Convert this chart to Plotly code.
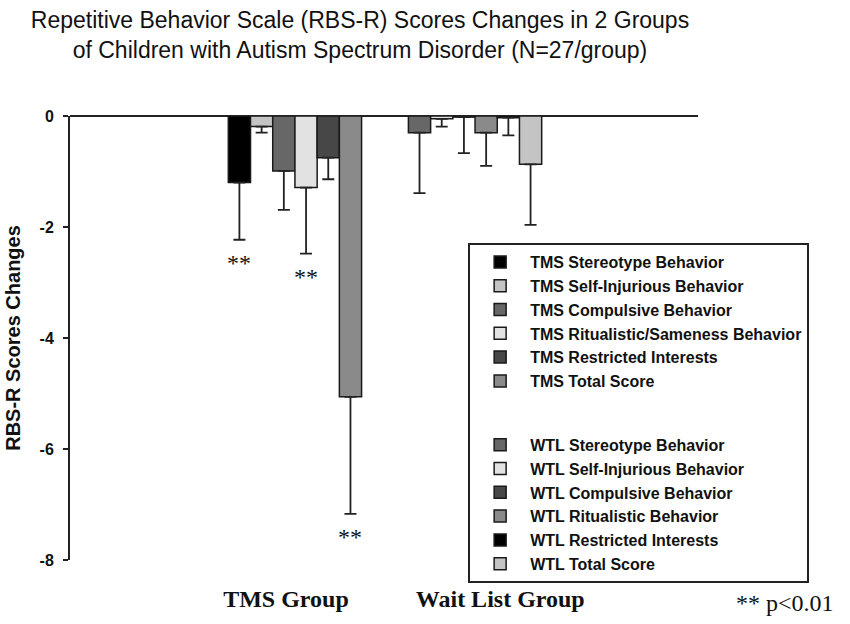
import plotly.graph_objects as go

# ---------------- data ----------------
groups = ["TMS Group", "Wait List Group"]
group_pos = [0, 1]
group_label_pos = [-0.05, 1.14]

tms_names = ["TMS Stereotype Behavior", "TMS Self-Injurious Behavior", "TMS Compulsive Behavior",
             "TMS Ritualistic/Sameness Behavior", "TMS Restricted Interests", "TMS Total Score"]
wtl_names = ["WTL Stereotype Behavior", "WTL Self-Injurious Behavior", "WTL Compulsive Behavior",
             "WTL Ritualistic Behavior", "WTL Restricted Interests", "WTL Total Score"]

tms_means = [-1.20, -0.19, -0.99, -1.29, -0.75, -5.06]
tms_err = [1.03, 0.11, 0.70, 1.19, 0.39, 2.11]
tms_sig = [True, False, False, True, False, True]

wtl_means = [-0.30, -0.05, -0.02, -0.30, -0.03, -0.87]
wtl_err = [1.09, 0.14, 0.65, 0.60, 0.32, 1.09]

tms_colors = ["#000000", "#c4c4c4", "#676767", "#e2e2e2", "#474747", "#8a8a8a"]
wtl_colors = ["#676767", "#e2e2e2", "#474747", "#8a8a8a", "#000000", "#c4c4c4"]

y_ticks = [-8, -6, -4, -2, 0]

# ---------------- figure ----------------
SANS = "Liberation Sans, Arial, sans-serif"
SERIF = "Liberation Serif, Times New Roman, serif"
BARGAP = 0.26
n = len(tms_names)

fig = go.Figure()

def add_series(names, means, errs, colors, gx, grp):
    for i in range(n):
        fig.add_trace(go.Bar(
            x=[gx], y=[means[i]], name=names[i],
            offsetgroup=str(i), legendgroup=grp,
            marker=dict(color=colors[i], line=dict(color="#1a1a1a", width=1.5)),
            error_y=dict(type="data", symmetric=False, array=[0], arrayminus=[errs[i]],
                         color="#222222", thickness=1.8, width=6),
        ))

add_series(tms_names, tms_means, tms_err, tms_colors, group_pos[0], "TMS")
add_series(wtl_names, wtl_means, wtl_err, wtl_colors, group_pos[1], "WTL")

# significance markers below error bars
slot = (1 - BARGAP) / n
for i in range(n):
    if tms_sig[i]:
        xo = group_pos[0] - (1 - BARGAP) / 2 + (i + 0.5) * slot
        fig.add_annotation(x=xo, y=tms_means[i] - tms_err[i], xref="x", yref="y",
                           text="**", showarrow=False, yanchor="top", yshift=-8,
                           font=dict(family=SERIF, size=24, color="#111"))

fig.add_annotation(x=1.138, y=-0.097, xref="paper", yref="paper", text="** p&lt;0.01",
                   showarrow=False, xanchor="center", yanchor="middle",
                   font=dict(family=SERIF, size=24, color="#111"))

fig.update_layout(
    width=850, height=624,
    margin=dict(l=67, r=152, t=116, b=64),
    plot_bgcolor="white", paper_bgcolor="white",
    barmode="group", bargap=BARGAP, bargroupgap=0,
    title=dict(text="Repetitive Behavior Scale (RBS-R) Scores Changes in 2 Groups<br>of Children with Autism Spectrum Disorder (N=27/group)",
               x=360/850, xanchor="center", xref="container", y=1 - 28/624, yanchor="top", yref="container",
               font=dict(family=SANS, size=23, color="#111")),
    xaxis=dict(range=[-1.249, 2.238], tickmode="array", tickvals=group_label_pos,
               ticktext=["<b>%s</b>" % g for g in groups], ticks="", showline=False,
               showgrid=False, zeroline=False, ticklabelstandoff=22,
               tickfont=dict(family=SERIF, size=24, color="#111")),
    yaxis=dict(range=[-8, 0], tickmode="array", tickvals=y_ticks,
               ticktext=["<b>%d</b>" % v for v in y_ticks],
               showline=True, linecolor="#222", linewidth=2, mirror=False,
               ticks="outside", ticklen=5, tickwidth=2, tickcolor="#222",
               showgrid=False, zeroline=True, zerolinecolor="#222", zerolinewidth=2,
               ticklabelstandoff=6,
               tickfont=dict(family=SANS, size=16, color="#111"),
               title=dict(text="<b>RBS-R Scores Changes</b>", standoff=14,
                          font=dict(family=SANS, size=20, color="#111"))),
    legend=dict(x=0.634, y=0.714, xanchor="left", yanchor="top",
                traceorder="grouped", tracegroupgap=40, itemwidth=50,
                bordercolor="#222", borderwidth=2, bgcolor="white",
                font=dict(family=SANS, size=16, color="#111", weight="bold")),
)

fig.write_html("out.html", config={"displayModeBar": False},
               post_script="document.body.style.margin='0px';")
